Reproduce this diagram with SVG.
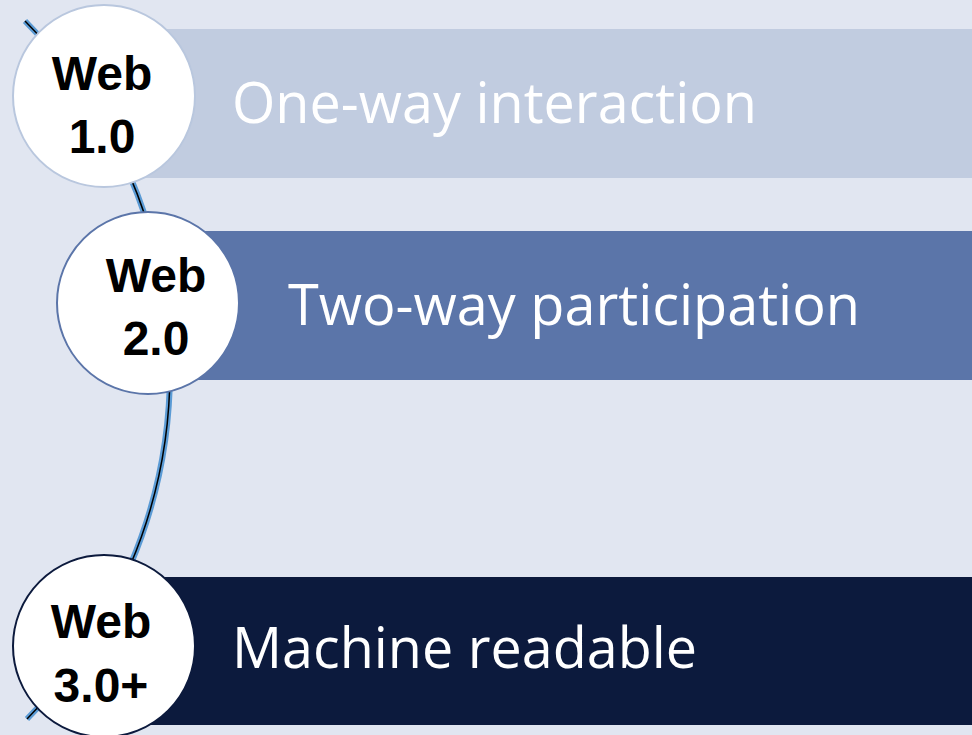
<svg xmlns="http://www.w3.org/2000/svg" width="972" height="735" viewBox="0 0 972 735">
<style>
.bar-text{font-family:"Open Sans","Liberation Sans",sans-serif;font-size:56px;fill:#ffffff}
.lbl{font-family:"Liberation Sans",Arial,sans-serif;font-weight:bold;font-size:48px;fill:#000000;text-anchor:middle}
.node circle{fill:#ffffff;stroke-width:2}
</style>
<rect width="972" height="735" fill="#E1E6F1"/>
<g id="connectors">
<path d="M 25 21 A 495 495 0 0 1 27 719" fill="none" stroke="#5B9BD5" stroke-width="6"/>
<path d="M 25 21 A 495 495 0 0 1 27 719" fill="none" stroke="#000000" stroke-width="1.5"/>
</g>
<g id="node1" class="node">
<rect x="104" y="29" width="868" height="149" fill="#C1CCE0"/>
<circle cx="104" cy="96" r="91" stroke="#B9C7DE"/>
<text class="lbl" x="102" y="90">Web</text>
<text class="lbl" x="102" y="153">1.0</text>
<text class="bar-text" x="232" y="123" textLength="525" lengthAdjust="spacingAndGlyphs">One-way interaction</text>
</g>
<g id="node2" class="node">
<rect x="148" y="231" width="824" height="149" fill="#5B75A9"/>
<circle cx="148" cy="303" r="91" stroke="#5B75A9"/>
<text class="lbl" x="156" y="292">Web</text>
<text class="lbl" x="156" y="355">2.0</text>
<text class="bar-text" x="288" y="325" textLength="572" lengthAdjust="spacingAndGlyphs">Two-way participation</text>
</g>
<g id="node3" class="node">
<rect x="104" y="577" width="868" height="148" fill="#0C1A3D"/>
<circle cx="104" cy="646" r="91" stroke="#0C1A3D"/>
<text class="lbl" x="101" y="638">Web</text>
<text class="lbl" x="101" y="702">3.0+</text>
<text class="bar-text" x="232" y="668" textLength="465" lengthAdjust="spacingAndGlyphs">Machine readable</text>
</g>
</svg>
